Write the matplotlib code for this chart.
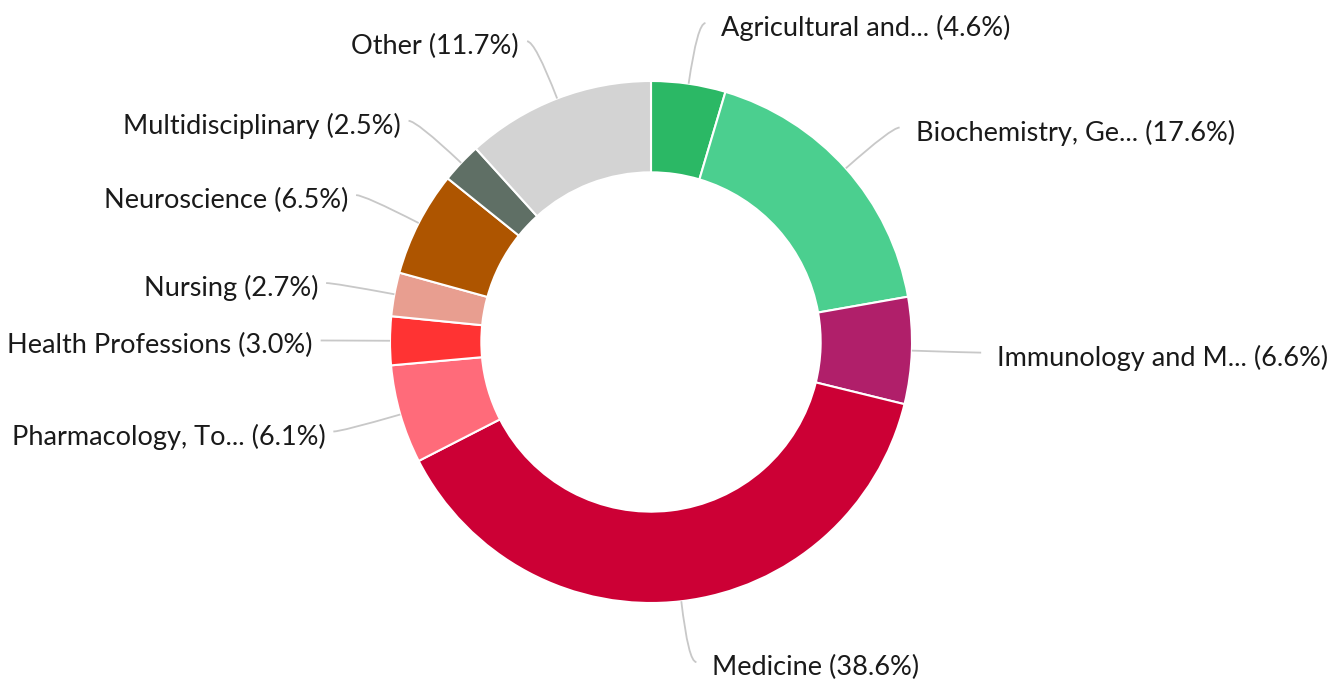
"""Donut chart of publications by subject area."""

import matplotlib
matplotlib.use("Agg")
import matplotlib.pyplot as plt
import numpy as np
from matplotlib.path import Path
from matplotlib.patches import PathPatch

categories = [
    "Agricultural and...",
    "Biochemistry, Ge...",
    "Immunology and M...",
    "Medicine",
    "Pharmacology, To...",
    "Health Professions",
    "Nursing",
    "Neuroscience",
    "Multidisciplinary",
    "Other",
]
shares = [4.6, 17.6, 6.6, 38.6, 6.1, 3.0, 2.7, 6.5, 2.5, 11.7]
colors = [
    "#2bb865", "#4bcf8f", "#b01f6a", "#cc0035", "#ff6b7a",
    "#ff3333", "#e89e90", "#ae5500", "#5f6f65", "#d3d3d3",
]

W, H, DPI = 1337, 679, 100
CX, CY, R_PX = 651, 342, 261


def main() -> None:
    plt.rcParams["font.family"] = ["Lato", "DejaVu Sans"]
    fig = plt.figure(figsize=(W / DPI, H / DPI), dpi=DPI)
    ax = fig.add_axes([0, 0, 1, 1])

    wedges, _ = ax.pie(
        shares,
        colors=colors,
        radius=1.0,
        startangle=90,
        counterclock=False,
        wedgeprops=dict(width=0.35, edgecolor="white", linewidth=1.5),
    )

    px = 1.0 / R_PX
    for w, name, val in zip(wedges, categories, shares):
        mid = np.deg2rad((w.theta1 + w.theta2) / 2)
        cx, cy = np.cos(mid), np.sin(mid)
        side = 1 if cx >= 0 else -1
        p0 = (cx * 1.0, cy * 1.0)
        p1 = (cx * 1.235, cy * 1.235)
        p2 = (p1[0] + side * 8 * px, p1[1])
        path = Path([p0, p1, p2], [Path.MOVETO, Path.CURVE3, Path.CURVE3])
        ax.add_patch(PathPatch(path, fill=False, edgecolor="#c8c8c8", lw=1.3))
        gap = 16 if side > 0 else 8
        ax.text(
            p2[0] + side * gap * px, p2[1] - 5 * px,
            f"{name} ({val:.1f}%)",
            ha="left" if side > 0 else "right", va="center",
            fontsize=19.5, color="#1a1a1a",
        )

    ax.set_aspect("auto")
    ax.set_xlim(-CX / R_PX, (W - CX) / R_PX)
    ax.set_ylim(-(H - CY) / R_PX, CY / R_PX)
    ax.axis("off")

    fig.savefig("out.png", dpi=DPI, facecolor="white")
    plt.close(fig)


if __name__ == "__main__":
    main()
